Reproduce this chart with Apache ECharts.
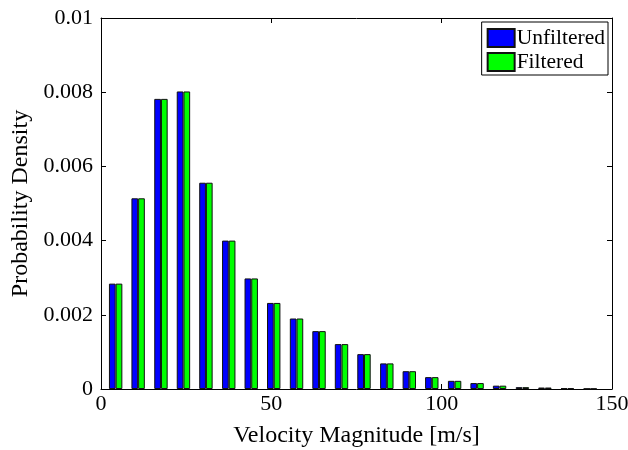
<!DOCTYPE html>
<html>
<head>
<meta charset="utf-8">
<script src="https://cdn.jsdelivr.net/npm/echarts@6/dist/echarts.min.js"></script>
<style>html,body{margin:0;padding:0;background:#fff;}#c{width:628px;height:450px;}</style>
</head>
<body>
<div id="c"></div>
<script>
var binCenters = [4.3, 10.9, 17.6, 24.2, 30.8, 37.5, 44.1, 50.7, 57.4, 64.0, 70.6, 77.2, 83.9, 90.5, 97.1, 103.8, 110.4, 117.0, 123.7, 130.3, 136.9, 143.6];
var unfiltered = [0.00284, 0.00514, 0.00782, 0.00802, 0.00556, 0.00400, 0.00298, 0.00232, 0.00190, 0.00156, 0.00121, 0.00094, 0.00069, 0.00048, 0.00032, 0.00022, 0.00016, 0.00009, 0.00005, 0.00004, 0.00002, 0.00001];
var filtered   = [0.00284, 0.00514, 0.00782, 0.00802, 0.00556, 0.00400, 0.00298, 0.00232, 0.00190, 0.00156, 0.00121, 0.00094, 0.00069, 0.00048, 0.00032, 0.00022, 0.00016, 0.00009, 0.00005, 0.00004, 0.00002, 0.00001];
var xTicks = [0, 50, 100, 150];
var yTicks = [0, 0.002, 0.004, 0.006, 0.008, 0.01];
var seriesNames = ['Unfiltered', 'Filtered'];

var FONT = "'Liberation Serif', 'Times New Roman', serif";
function pairs(xs, ys) { return xs.map(function (x, i) { return [x, ys[i]]; }); }
var yLabelMap = {};
yTicks.forEach(function (t) { yLabelMap[t.toFixed(3)] = String(t); });

var chart = echarts.init(document.getElementById('c'), null, { renderer: 'canvas' });
var axisLine = { show: true, onZero: false, lineStyle: { color: '#000', width: 1 } };
var tick = { show: true, inside: true, length: 5, lineStyle: { color: '#000', width: 1 } };
chart.setOption({
  animation: false,
  backgroundColor: '#fff',
  textStyle: { fontFamily: FONT },
  grid: { left: 101, right: 16, top: 18, bottom: 61, containLabel: false, outerBoundsMode: 'none' },
  legend: {
    data: seriesNames,
    orient: 'vertical',
    right: 20, top: 22,
    padding: [5, 3, 2, 5],
    itemWidth: 27, itemHeight: 18, itemGap: 2,
    borderColor: '#000', borderWidth: 1,
    backgroundColor: '#fff',
    icon: 'rect',
    textStyle: { fontFamily: FONT, fontSize: 21.5, color: '#000', padding: [0, 0, 0, -3] }
  },
  xAxis: [{
    type: 'value', min: xTicks[0], max: xTicks[xTicks.length - 1], interval: xTicks[1] - xTicks[0],
    name: 'Velocity Magnitude [m/s]', nameLocation: 'middle', nameGap: 35,
    nameTextStyle: { fontFamily: FONT, fontSize: 24, color: '#000' },
    axisLine: axisLine, axisTick: tick, splitLine: { show: false },
    axisLabel: { fontFamily: FONT, fontSize: 22, color: '#000', margin: 4 }
  }, {
    type: 'value', position: 'top', min: xTicks[0], max: xTicks[xTicks.length - 1], interval: xTicks[1] - xTicks[0],
    axisLine: axisLine, axisTick: tick, splitLine: { show: false }, axisLabel: { show: false }
  }],
  yAxis: [{
    type: 'value', min: yTicks[0], max: yTicks[yTicks.length - 1], interval: 0.002,
    name: 'Probability Density', nameLocation: 'middle', nameGap: 67,
    nameTextStyle: { fontFamily: FONT, fontSize: 24, color: '#000' },
    axisLine: axisLine, axisTick: tick, splitLine: { show: false },
    axisLabel: { fontFamily: FONT, fontSize: 22, color: '#000', margin: 8,
      formatter: function (v) { var k = v.toFixed(3); return yLabelMap[k] !== undefined ? yLabelMap[k] : String(v); } }
  }, {
    type: 'value', position: 'right', min: yTicks[0], max: yTicks[yTicks.length - 1], interval: 0.002,
    axisLine: axisLine, axisTick: tick, splitLine: { show: false }, axisLabel: { show: false }
  }],
  series: [{
    name: seriesNames[0], type: 'bar', xAxisIndex: 0, yAxisIndex: 0,
    data: pairs(binCenters, unfiltered), barWidth: 6.7, barGap: '0%',
    itemStyle: { color: '#0000ff', borderColor: '#111', borderWidth: 1 }
  }, {
    name: seriesNames[1], type: 'bar', xAxisIndex: 0, yAxisIndex: 0,
    data: pairs(binCenters, filtered), barWidth: 6.7, barGap: '0%',
    itemStyle: { color: '#00ff00', borderColor: '#111', borderWidth: 1 }
  }]
});
</script>
</body>
</html>
